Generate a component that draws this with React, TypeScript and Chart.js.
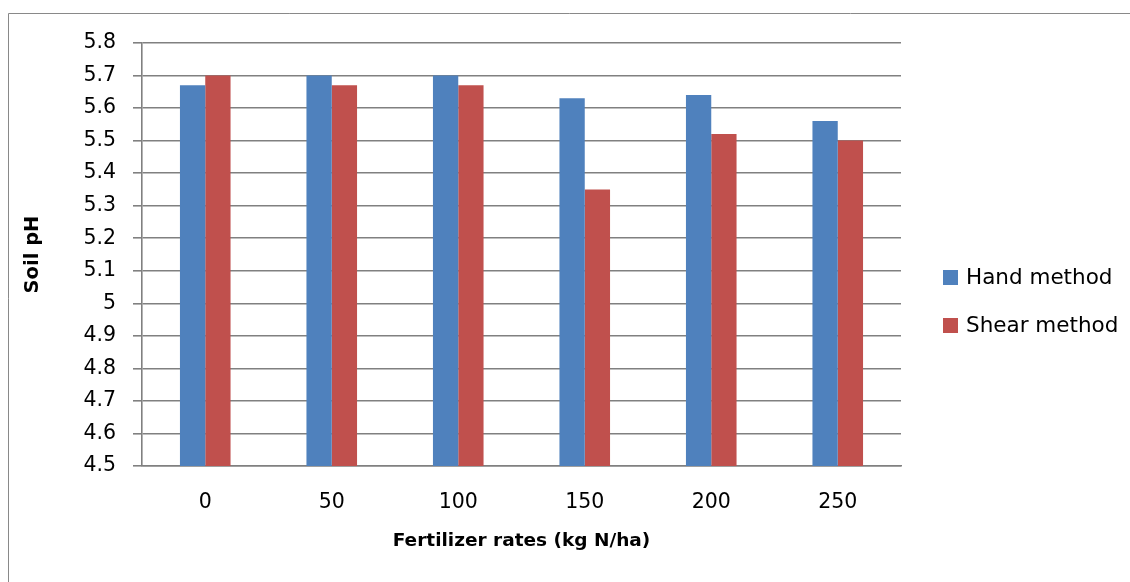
import React, { useEffect, useRef } from "react";
import { Chart, registerables } from "chart.js";

Chart.register(...registerables);

const categories = ["0", "50", "100", "150", "200", "250"];
const handMethod = [5.67, 5.7, 5.7, 5.63, 5.64, 5.56];
const shearMethod = [5.7, 5.67, 5.67, 5.35, 5.52, 5.5];
const seriesNames = ["Hand method", "Shear method"];
const seriesColors = ["#4F81BD", "#C0504D"];
const yMin = 4.5;
const yMax = 5.8;
const yStep = 0.1;
const xTitle = "Fertilizer rates (kg N/ha)";
const yTitle = "Soil pH";

const FONT = "'DejaVu Sans', sans-serif";
const GRID = "#808080";

const framePlugin = {
  id: "frame",
  beforeDraw(chart: any) {
    const ctx = chart.ctx;
    ctx.save();
    ctx.fillStyle = "#ffffff";
    ctx.fillRect(0, 0, chart.width, chart.height);
    ctx.strokeStyle = "#898989";
    ctx.lineWidth = 1;
    ctx.beginPath();
    ctx.moveTo(8.5, chart.height + 2);
    ctx.lineTo(8.5, 13.5);
    ctx.lineTo(chart.width + 2, 13.5);
    ctx.stroke();
    ctx.restore();
  },
};

const sideLegendPlugin = {
  id: "sideLegend",
  afterDraw(chart: any) {
    const ctx = chart.ctx;
    ctx.save();
    const x = chart.chartArea.right + 42;
    const y0 = 277.5;
    const gap = 48;
    ctx.font = `21.5px ${FONT}`;
    ctx.textBaseline = "middle";
    ctx.textAlign = "left";
    chart.data.datasets.forEach((ds: any, i: number) => {
      const cy = y0 + i * gap;
      ctx.fillStyle = ds.backgroundColor;
      ctx.fillRect(x, cy - 7.5, 15, 15);
      ctx.fillStyle = "#000000";
      ctx.fillText(ds.label, x + 23, cy + 1);
    });
    ctx.restore();
  },
};

export default function App() {
  const ref = useRef<HTMLCanvasElement | null>(null);

  useEffect(() => {
    if (!ref.current) return;
    const chart = new Chart(ref.current, {
      type: "bar",
      data: {
        labels: categories,
        datasets: [
          {
            label: seriesNames[0],
            data: handMethod,
            backgroundColor: seriesColors[0],
            borderWidth: 0,
          },
          {
            label: seriesNames[1],
            data: shearMethod,
            backgroundColor: seriesColors[1],
            borderWidth: 0,
          },
        ],
      },
      options: {
        animation: false,
        responsive: false,
        maintainAspectRatio: false,
        layout: { padding: { top: 43, right: 229, left: 0, bottom: 0 } },
        datasets: {
          bar: { categoryPercentage: 0.4, barPercentage: 1.0 },
        },
        plugins: {
          legend: { display: false },
          tooltip: { enabled: false },
        },
        scales: {
          x: {
            afterFit: (s: any) => {
              s.height = 116;
            },
            grid: { display: false, drawTicks: false },
            border: { display: true, color: GRID, width: 1.6 },
            ticks: {
              color: "#000000",
              font: { family: FONT, size: 20.5 },
              padding: 24,
            },
            title: {
              display: true,
              text: xTitle,
              color: "#000000",
              font: { family: FONT, size: 18.5, weight: "bold" },
              padding: { top: 0, bottom: 30 },
            },
          },
          y: {
            min: yMin,
            max: yMax,
            afterFit: (s: any) => {
              s.width = 142;
            },
            ticks: {
              stepSize: yStep,
              color: "#000000",
              font: { family: FONT, size: 20.5 },
              padding: 17,
              callback: (v: any) => String(Number(Number(v).toFixed(1))),
            },
            grid: {
              color: GRID,
              lineWidth: 1.6,
              tickLength: 9,
              drawTicks: true,
            },
            border: { display: true, color: GRID, width: 1.6 },
            title: {
              display: true,
              text: yTitle,
              color: "#000000",
              font: { family: FONT, size: 19.5, weight: "bold" },
              padding: { top: 21, bottom: 0 },
            },
          },
        },
      },
      plugins: [framePlugin, sideLegendPlugin],
    });
    return () => chart.destroy();
  }, []);

  return (
    <div style={{ position: "absolute", left: 0, top: 0, width: 1130, height: 582 }}>
      <canvas ref={ref} width={1130} height={582} style={{ display: "block" }} />
    </div>
  );
}
